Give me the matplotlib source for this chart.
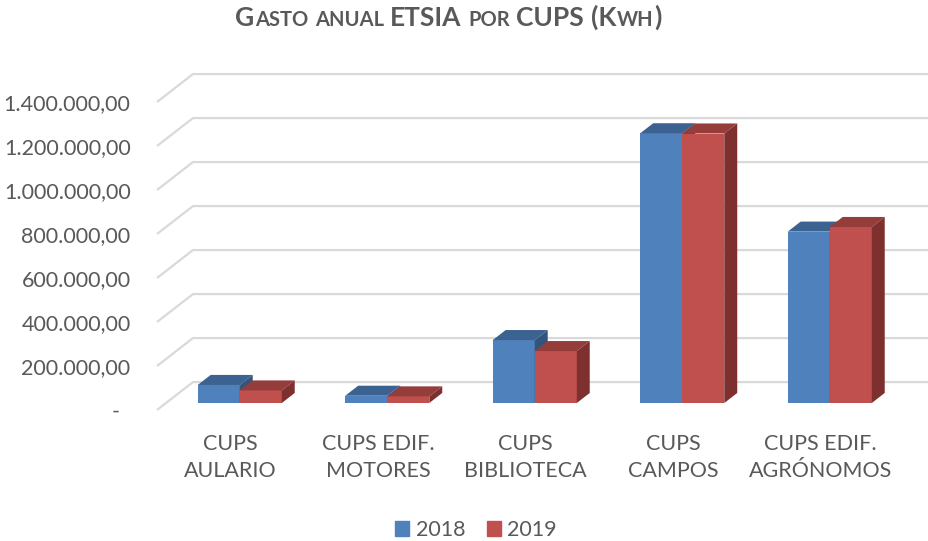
import numpy as np
import matplotlib.pyplot as plt
from matplotlib.patches import Polygon, Patch

plt.rcParams['font.family'] = ['Lato', 'DejaVu Sans']

categories = ["CUPS\nAULARIO", "CUPS EDIF.\nMOTORES", "CUPS\nBIBLIOTECA",
              "CUPS\nCAMPOS", "CUPS EDIF.\nAGRÓNOMOS"]
years = ["2018", "2019"]
kwh_2018 = [82000, 33000, 286000, 1226000, 779000]
kwh_2019 = [57000, 30000, 236000, 1225000, 800000]
yticks = np.arange(0, 1400001, 200000)

# front colour, top colour, side colour for each year
face_colors = {"2018": ("#4F81BD", "#3C6291", "#33547C"),
               "2019": ("#C0504D", "#943D3A", "#7D302E")}
text_color = "#595959"
grid_color = "#D9D9D9"

# oblique depth of the floor/wall, in data units
DX = 0.244
DY = 127000
front = 0.25      # where the bars start inside the depth
depth = 0.36      # how deep the bars are
bar_w = 0.285


def fmt_es(v):
    if v == 0:
        return "-  "
    s = "{:,.2f}".format(v)
    return s.replace(",", "_").replace(".", ",").replace("_", ".")


fig = plt.figure(figsize=(9.29, 5.41), dpi=100)
W, H = 929, 541
ax = fig.add_axes([157 / W, (H - 410) / H, 737.5 / W, 308 / H])
ax.set_xlim(-0.5, 4.5)
ax.set_ylim(0, 1400000)
for s in ax.spines.values():
    s.set_visible(False)

# side wall + back wall gridlines
for v in yticks:
    ax.plot([-0.5, -0.5 + DX, 6.0], [v, v + DY, v + DY], color=grid_color,
            lw=1.6, clip_on=False, zorder=0, solid_capstyle='butt')

x = np.arange(len(categories))
fx = front * DX
fy = front * DY
bdx = depth * DX
bdy = depth * DY

z = 2
for i in x:
    for k, (yr, vals) in enumerate(zip(years, [kwh_2018, kwh_2019])):
        c_front, c_top, c_side = face_colors[yr]
        v = vals[i]
        xl = i + fx - bar_w + k * bar_w
        xr = xl + bar_w
        top = fy + v
        ax.bar(xl, v, bar_w, bottom=fy, align='edge', color=c_front,
               lw=0, zorder=z, clip_on=False)
        ax.add_patch(Polygon([(xl, top), (xr, top), (xr + bdx, top + bdy), (xl + bdx, top + bdy)],
                             closed=True, color=c_top, lw=0, zorder=z, clip_on=False))
        ax.add_patch(Polygon([(xr, fy), (xr + bdx, fy + bdy), (xr + bdx, top + bdy), (xr, top)],
                             closed=True, color=c_side, lw=0, zorder=z, clip_on=False))
        z += 1

ax.set_yticks(yticks)
ax.set_yticklabels([fmt_es(v) for v in yticks])
ax.set_xticks(x)
ax.set_xticklabels(categories, linespacing=1.45)
ax.tick_params(axis='y', length=0, pad=19, labelsize=15.5, labelcolor=text_color)
ax.tick_params(axis='x', length=0, pad=17, labelsize=15.5, labelcolor=text_color)

# legend
handles = [Patch(color=face_colors[yr][0]) for yr in years]
fig.legend(handles, years, loc='center', bbox_to_anchor=(476 / W, (H - 530) / H),
           ncol=2, frameon=False, fontsize=15.5, handlelength=0.65, handleheight=0.65,
           handletextpad=0.3, columnspacing=1.0, labelcolor=text_color)

# title with small caps built from pieces
big, small = 19, 14.5
pieces = [("G", big, False), ("ASTO", small, False), ("ANUAL", small, True),
          ("ETSIA", big, True), ("POR", small, True), ("CUPS", big, True),
          ("(K", big, True), ("WH", small, False), (")", big, False)]
renderer = fig.canvas.get_renderer()
space = 6
texts = []
total = 0
for txt, size, gap in pieces:
    t = fig.text(0, 0, txt, fontsize=size, fontweight='bold', color=text_color,
                 ha='left', va='baseline')
    w = t.get_window_extent(renderer).width
    if gap:
        total += space
    texts.append((t, total))
    total += w + 0.5
x0 = 448.5 - total / 2
for t, off in texts:
    t.set_position(((x0 + off) / W, (H - 26) / H))

fig.savefig("out.png", dpi=100)
